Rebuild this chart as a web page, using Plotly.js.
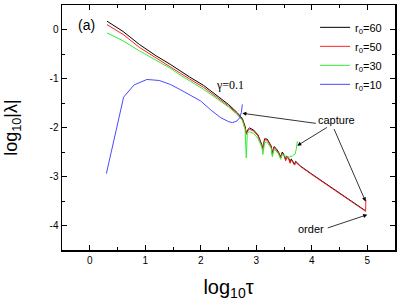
<!DOCTYPE html>
<html><head><meta charset="utf-8">
<script src="https://cdn.plot.ly/plotly-3.0.1.min.js"></script>
<style>html,body{margin:0;padding:0;background:#fff}#plot{width:399px;height:303px}</style>
</head><body><div id="plot"></div>
<script>
// Data
const xMain = [0.31, 0.6, 0.9, 1.2, 1.45, 1.63, 1.8, 2.05, 2.3, 2.5, 2.66, 2.75, 2.80, 2.82, 2.85, 2.88, 2.95, 3.03, 3.10, 3.12, 3.15, 3.20, 3.27, 3.29, 3.32, 3.36, 3.40, 3.44, 3.47, 3.51, 3.53, 3.55, 3.59, 3.61, 3.63, 3.67, 3.69, 3.71, 3.75, 3.8, 4.0, 4.34, 4.6, 4.8, 4.97];
const yR60 = [0.17, -0.04, -0.31, -0.54, -0.71, -0.85, -0.97, -1.14, -1.36, -1.53, -1.70, -1.82, -1.98, -2.12, -2.04, -2.01, -2.05, -2.15, -2.35, -2.43, -2.23, -2.24, -2.38, -2.53, -2.39, -2.43, -2.50, -2.60, -2.50, -2.58, -2.66, -2.58, -2.64, -2.71, -2.64, -2.70, -2.75, -2.69, -2.74, -2.79, -2.95, -3.21, -3.42, -3.57, -3.70];
const xR50 = [0.31, 0.6, 0.9, 1.2, 1.45, 1.63, 1.8, 2.05, 2.3, 2.5, 2.66, 2.75, 2.80, 2.82, 2.85, 2.88, 2.95, 3.03, 3.10, 3.12, 3.15, 3.20, 3.27, 3.29, 3.32, 3.36, 3.40, 3.44, 3.47, 3.51, 3.53, 3.55, 3.59, 3.61, 3.63, 3.67, 3.69, 3.71, 3.75, 3.8, 4.0, 4.34, 4.6, 4.8, 4.97, 4.975];
const yR50 = [0.10, -0.10, -0.37, -0.59, -0.76, -0.89, -1.01, -1.18, -1.39, -1.56, -1.72, -1.84, -2.00, -2.14, -2.06, -2.04, -2.07, -2.17, -2.37, -2.45, -2.25, -2.26, -2.40, -2.55, -2.41, -2.45, -2.52, -2.62, -2.52, -2.60, -2.68, -2.60, -2.66, -2.73, -2.66, -2.72, -2.77, -2.71, -2.76, -2.80, -2.96, -3.22, -3.43, -3.58, -3.71, -3.47];
const xR30 = [0.31, 0.6, 0.9, 1.2, 1.45, 1.63, 1.8, 2.05, 2.3, 2.5, 2.66, 2.75, 2.80, 2.82, 2.84, 2.88, 2.95, 3.03, 3.10, 3.12, 3.15, 3.20, 3.27, 3.29, 3.32, 3.36, 3.40, 3.44, 3.47, 3.51, 3.55, 3.60, 3.65, 3.70, 3.72, 3.74];
const yR30 = [-0.07, -0.23, -0.44, -0.63, -0.79, -0.93, -1.05, -1.22, -1.42, -1.58, -1.74, -1.86, -2.05, -2.62, -2.10, -2.09, -2.12, -2.22, -2.40, -2.55, -2.30, -2.30, -2.43, -2.60, -2.45, -2.48, -2.54, -2.65, -2.55, -2.58, -2.60, -2.60, -2.58, -2.54, -2.45, -2.28];
const xR10 = [0.30, 0.61, 0.8, 1.03, 1.25, 1.45, 1.7, 2.0, 2.2, 2.36, 2.5, 2.57, 2.65, 2.70, 2.73, 2.75];
const yR10 = [-2.94, -1.38, -1.13, -1.02, -1.04, -1.12, -1.27, -1.46, -1.66, -1.80, -1.88, -1.90, -1.87, -1.80, -1.70, -1.53];
const seriesNames = ['r<sub>0</sub>=60', 'r<sub>0</sub>=50', 'r<sub>0</sub>=30', 'r<sub>0</sub>=10'];
const xTicks = [0, 1, 2, 3, 4, 5];
const yTicks = [-4, -3, -2, -1, 0];

const FONT = 'Liberation Sans, Arial, sans-serif';
const colors = ['#000000', '#ff2020', '#33ee33', '#4a4aff'];
const traces = [
  {x: xMain, y: yR60, name: seriesNames[0]},
  {x: xR50, y: yR50, name: seriesNames[1]},
  {x: xR30, y: yR30, name: seriesNames[2]},
  {x: xR10, y: yR10, name: seriesNames[3]}
].map((t, i) => Object.assign(t, {type: 'scatter', mode: 'lines', line: {color: colors[i], width: 1}}));

const axisCommon = {
  showline: true, linecolor: '#000', linewidth: 1.5, mirror: 'ticks',
  ticks: 'inside', ticklen: 5, tickwidth: 1.2, tickcolor: '#000',
  showgrid: false, zeroline: false,
  tickfont: {family: FONT, size: 10, color: '#000'},
  minor: {ticks: 'inside', ticklen: 3, tickwidth: 1, tickcolor: '#000', showgrid: false}
};

const arrow = (x, y, ax, ay) => ({x: x, y: y, ax: ax, ay: ay, xref: 'x', yref: 'y', axref: 'x', ayref: 'y',
  text: '', showarrow: true, arrowhead: 2, arrowsize: 1, arrowwidth: 0.8, arrowcolor: '#000'});

const layout = {
  width: 399, height: 303,
  margin: {l: 62, r: 4, t: 5, b: 53},
  paper_bgcolor: '#fff', plot_bgcolor: '#fff',
  font: {family: FONT, color: '#000'},
  showlegend: true,
  legend: {x: 0.76, y: 0.968, xanchor: 'left', yanchor: 'top', bgcolor: 'rgba(0,0,0,0)',
           font: {family: FONT, size: 11, color: '#000'}, tracegroupgap: 0, itemwidth: 30},
  xaxis: Object.assign({}, axisCommon, {
    range: [-0.5, 5.5], tickvals: xTicks, ticktext: xTicks.map(String),
    minor: Object.assign({}, axisCommon.minor, {dtick: 0.5, tick0: 0}),
    title: {text: 'log<sub>10</sub>τ', font: {family: FONT, size: 20, color: '#000'}, standoff: 15}
  }),
  yaxis: Object.assign({}, axisCommon, {
    range: [-4.5, 0.5], tickvals: yTicks, ticktext: yTicks.map(String),
    minor: Object.assign({}, axisCommon.minor, {dtick: 0.5, tick0: 0}),
    title: {text: 'log<sub>10</sub>|λ|', font: {family: FONT, size: 18, color: '#000'}, standoff: 27}
  }),
  annotations: [
    {x: -0.06, y: 0.10, xref: 'x', yref: 'y', text: '(a)', showarrow: false, font: {family: FONT, size: 14, color: '#000'}},
    {x: 2.53, y: -1.14, xref: 'x', yref: 'y', text: 'γ=0.1', showarrow: false, font: {family: 'Liberation Serif, Times New Roman, serif', size: 12, color: '#000'}},
    {x: 4.45, y: -1.84, xref: 'x', yref: 'y', text: 'capture', showarrow: false, font: {family: FONT, size: 11, color: '#000'}},
    {x: 3.99, y: -4.08, xref: 'x', yref: 'y', text: 'order', showarrow: false, font: {family: FONT, size: 11, color: '#000'}},
    arrow(2.75, -1.71, 4.10, -1.92),
    arrow(3.74, -2.37, 4.30, -1.98),
    arrow(4.97, -3.51, 4.39, -2.00),
    arrow(5.0, -3.78, 4.26, -4.06)
  ]
};

Plotly.newPlot('plot', traces, layout, {staticPlot: true, displayModeBar: false});
</script>
</body></html>
